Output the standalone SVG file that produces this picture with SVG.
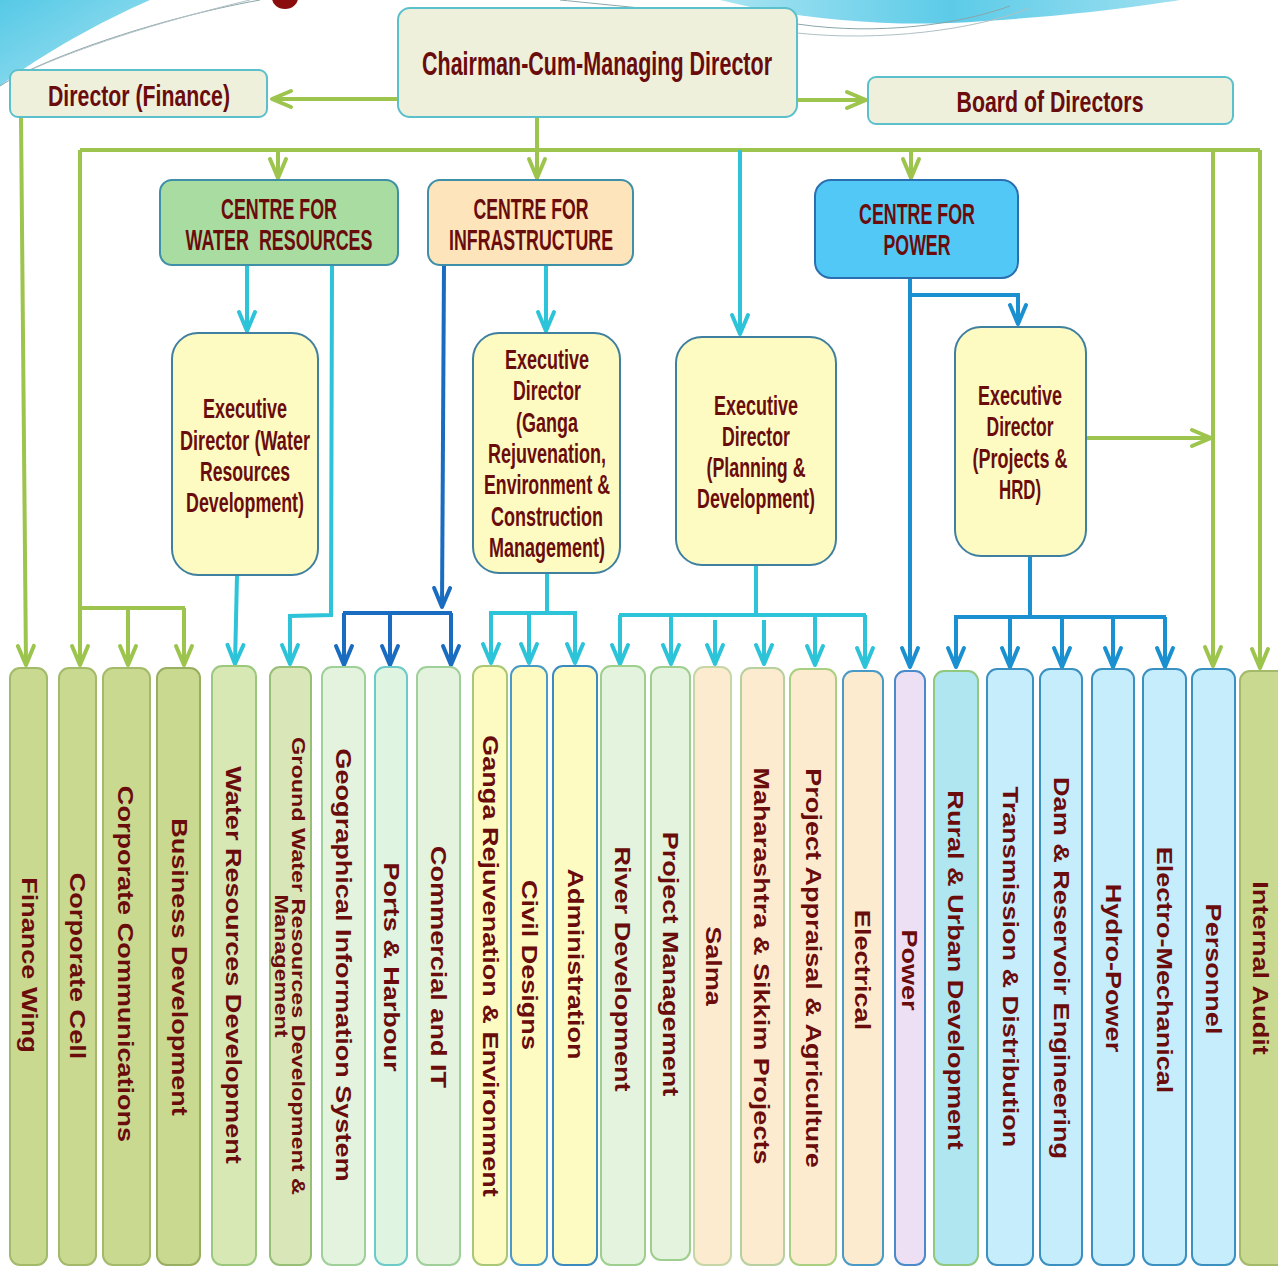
<svg xmlns="http://www.w3.org/2000/svg" width="1278" height="1266" viewBox="0 0 1278 1266">
<defs>
<linearGradient id="sw1" x1="0" y1="0" x2="1" y2="1"><stop offset="0" stop-color="#56c9e6"/><stop offset="1" stop-color="#a6e3f1"/></linearGradient>
<linearGradient id="sw2" x1="0" y1="0" x2="1" y2="0"><stop offset="0" stop-color="#a9e4f2"/><stop offset="0.5" stop-color="#5ccbe8"/><stop offset="1" stop-color="#9fe0f0"/></linearGradient>
<marker id="ag" viewBox="-22 -11 26 22" refX="0" refY="0" markerWidth="26" markerHeight="22" markerUnits="userSpaceOnUse" orient="auto" overflow="visible"><path d="M-19,-8 L0,0 L-19,8" fill="none" stroke="#9dc44d" stroke-width="4" stroke-linejoin="round" stroke-linecap="round"/></marker>
<marker id="ac" viewBox="-22 -11 26 22" refX="0" refY="0" markerWidth="26" markerHeight="22" markerUnits="userSpaceOnUse" orient="auto" overflow="visible"><path d="M-19,-8 L0,0 L-19,8" fill="none" stroke="#2dc3d8" stroke-width="4" stroke-linejoin="round" stroke-linecap="round"/></marker>
<marker id="ad" viewBox="-22 -11 26 22" refX="0" refY="0" markerWidth="26" markerHeight="22" markerUnits="userSpaceOnUse" orient="auto" overflow="visible"><path d="M-19,-8 L0,0 L-19,8" fill="none" stroke="#1a6cc0" stroke-width="4" stroke-linejoin="round" stroke-linecap="round"/></marker>
<marker id="ab" viewBox="-22 -11 26 22" refX="0" refY="0" markerWidth="26" markerHeight="22" markerUnits="userSpaceOnUse" orient="auto" overflow="visible"><path d="M-19,-8 L0,0 L-19,8" fill="none" stroke="#1a90d0" stroke-width="4" stroke-linejoin="round" stroke-linecap="round"/></marker>
</defs>
<style>
.t{font-family:"Liberation Sans Narrow","Liberation Sans",Arial,sans-serif;font-weight:bold;fill:#6a0c0c;text-anchor:middle}
.v{font-family:"Liberation Sans",Arial,sans-serif;font-weight:bold;fill:#6a0c0c;text-anchor:middle;font-size:22px}
.top{fill:#eef0dc;stroke:#5cc0cc;stroke-width:2}
.ed{fill:#fdfbc2;stroke:#3f7fa0;stroke-width:2}
.g{fill:none;stroke:#9dc44d;stroke-width:4}
.c{fill:none;stroke:#2dc3d8;stroke-width:4}
.d{fill:none;stroke:#1a6cc0;stroke-width:4}
.b{fill:none;stroke:#1a90d0;stroke-width:4}
.col{stroke-width:2}
</style>
<rect width="1278" height="1266" fill="#ffffff"/>
<g id="background">
<path d="M0,0 L150,0 C100,22 45,52 0,86 Z" fill="url(#sw1)"/>
<path d="M0,86 C40,60 150,20 260,0" fill="none" stroke="#8aa6aa" stroke-width="1"/>
<path d="M30,70 C110,35 200,12 250,0" fill="none" stroke="#b0c0c4" stroke-width="1"/>
<path d="M720,0 C790,18 880,26 950,23 C1050,18 1130,8 1180,0 Z" fill="url(#sw2)"/>
<path d="M797,24 C880,36 960,24 1010,6" fill="none" stroke="#8aa6aa" stroke-width="1"/>
<path d="M797,33 C880,42 975,30 1030,8" fill="none" stroke="#b0c0c4" stroke-width="1"/>
<path d="M560,0 C600,4 640,8 660,10" fill="none" stroke="#8aa6aa" stroke-width="1"/>
<ellipse cx="285" cy="-2" rx="13" ry="11" fill="#8a0c0c"/>
</g>
<g id="connectors">
<path class="g" d="M398,99 L272,99" marker-end="url(#ag)"/>
<path class="g" d="M797,100 L866,100" marker-end="url(#ag)"/>
<path class="g" d="M537,117 L537,178" marker-end="url(#ag)"/>
<path class="g" d="M80,150 L1260,150"/>
<path class="g" d="M278,150 L278,178" marker-end="url(#ag)"/>
<path class="g" d="M911,150 L911,178" marker-end="url(#ag)"/>
<path class="g" d="M21,117 L26,665" marker-end="url(#ag)"/>
<path class="g" d="M80,150 L80,665" marker-end="url(#ag)"/>
<path class="g" d="M80,608 L185,608"/>
<path class="g" d="M128,608 L128,665" marker-end="url(#ag)"/>
<path class="g" d="M184,608 L184,665" marker-end="url(#ag)"/>
<path class="g" d="M1213,150 L1213,666" marker-end="url(#ag)"/>
<path class="g" d="M1260,150 L1260,668" marker-end="url(#ag)"/>
<path class="g" d="M1086,438 L1211,438" marker-end="url(#ag)"/>
<path class="c" d="M740,150 L740,334" marker-end="url(#ac)"/>
<path class="c" d="M247,265 L247,331" marker-end="url(#ac)"/>
<path class="c" d="M332,265 L331,615 L290,616 L290,664" marker-end="url(#ac)"/>
<path class="c" d="M546,265 L546,331" marker-end="url(#ac)"/>
<path class="c" d="M237,575 L235,664" marker-end="url(#ac)"/>
<path class="c" d="M547,573 L547,613"/>
<path class="c" d="M489,613 L577,613"/>
<path class="c" d="M491,613 L491,663" marker-end="url(#ac)"/>
<path class="c" d="M529,613 L529,663" marker-end="url(#ac)"/>
<path class="c" d="M575,613 L575,663" marker-end="url(#ac)"/>
<path class="c" d="M756,565 L756,615"/>
<path class="c" d="M619,615 L866,615"/>
<path class="c" d="M620,615 L620,664" marker-end="url(#ac)"/>
<path class="c" d="M671,615 L671,664" marker-end="url(#ac)"/>
<path class="c" d="M715,620 L715,664" marker-end="url(#ac)"/>
<path class="c" d="M764,620 L764,664" marker-end="url(#ac)"/>
<path class="c" d="M815,615 L815,665" marker-end="url(#ac)"/>
<path class="c" d="M865,615 L865,667" marker-end="url(#ac)"/>
<path class="d" d="M444,265 L442,607" marker-end="url(#ad)"/>
<path class="d" d="M343,613 L452,613"/>
<path class="d" d="M344,613 L344,665" marker-end="url(#ad)"/>
<path class="d" d="M390,613 L390,665" marker-end="url(#ad)"/>
<path class="d" d="M451,613 L451,665" marker-end="url(#ad)"/>
<path class="b" d="M910,278 L910,667" marker-end="url(#ab)"/>
<path class="b" d="M910,295 L1018,295 L1018,324" marker-end="url(#ab)"/>
<path class="b" d="M1030,556 L1030,617"/>
<path class="b" d="M954,617 L1166,617"/>
<path class="b" d="M956,617 L956,667" marker-end="url(#ab)"/>
<path class="b" d="M1010,617 L1010,667" marker-end="url(#ab)"/>
<path class="b" d="M1062,617 L1062,667" marker-end="url(#ab)"/>
<path class="b" d="M1113,617 L1113,667" marker-end="url(#ab)"/>
<path class="b" d="M1165,617 L1165,667" marker-end="url(#ab)"/>
</g>
<g id="chairman">
<rect class="top" x="398" y="8" width="399" height="109" rx="12"/>
<text class="t" font-size="26" textLength="350" lengthAdjust="spacingAndGlyphs" transform="translate(597,75) scale(1,1.25)">Chairman-Cum-Managing Director</text>
</g>
<g id="director-finance">
<rect class="top" x="10" y="70" width="257" height="47" rx="8"/>
<text class="t" font-size="24" textLength="182" lengthAdjust="spacingAndGlyphs" transform="translate(139,106) scale(1,1.25)">Director (Finance)</text>
</g>
<g id="board">
<rect class="top" x="868" y="77" width="365" height="47" rx="8"/>
<text class="t" font-size="24" textLength="187" lengthAdjust="spacingAndGlyphs" transform="translate(1050,112) scale(1,1.25)">Board of Directors</text>
</g>
<g id="centre-water">
<rect x="160" y="180" width="238" height="85" rx="12" fill="#a8dca0" stroke="#3f8fa8" stroke-width="2"/>
<text class="t" font-size="24" textLength="116" lengthAdjust="spacingAndGlyphs" transform="translate(279,219) scale(1,1.25)">CENTRE FOR</text>
<text class="t" font-size="24" textLength="187" lengthAdjust="spacingAndGlyphs" transform="translate(279,250) scale(1,1.25)" xml:space="preserve">WATER  RESOURCES</text>
</g>
<g id="centre-infra">
<rect x="428" y="180" width="205" height="85" rx="12" fill="#fde4ba" stroke="#3f8fa8" stroke-width="2"/>
<text class="t" font-size="24" textLength="115" lengthAdjust="spacingAndGlyphs" transform="translate(531,219) scale(1,1.25)">CENTRE FOR</text>
<text class="t" font-size="24" textLength="164" lengthAdjust="spacingAndGlyphs" transform="translate(531,250) scale(1,1.25)">INFRASTRUCTURE</text>
</g>
<g id="centre-power">
<rect x="815" y="180" width="203" height="98" rx="16" fill="#52c8f6" stroke="#2a6fb0" stroke-width="2"/>
<text class="t" font-size="24" textLength="116" lengthAdjust="spacingAndGlyphs" transform="translate(917,224) scale(1,1.25)">CENTRE FOR</text>
<text class="t" font-size="24" textLength="67" lengthAdjust="spacingAndGlyphs" transform="translate(917,255) scale(1,1.25)">POWER</text>
</g>
<g id="ed-water">
<rect class="ed" x="172" y="333" width="146" height="242" rx="26"/>
<text class="t" font-size="22" textLength="84" lengthAdjust="spacingAndGlyphs" transform="translate(245,418) scale(1,1.25)">Executive</text>
<text class="t" font-size="22" textLength="130" lengthAdjust="spacingAndGlyphs" transform="translate(245,450) scale(1,1.25)">Director (Water</text>
<text class="t" font-size="22" textLength="90" lengthAdjust="spacingAndGlyphs" transform="translate(245,481) scale(1,1.25)">Resources</text>
<text class="t" font-size="22" textLength="118" lengthAdjust="spacingAndGlyphs" transform="translate(245,512) scale(1,1.25)">Development)</text>
</g>
<g id="ed-ganga">
<rect class="ed" x="473" y="333" width="147" height="240" rx="26"/>
<text class="t" font-size="22" textLength="84" lengthAdjust="spacingAndGlyphs" transform="translate(547,369) scale(1,1.25)">Executive</text>
<text class="t" font-size="22" textLength="68" lengthAdjust="spacingAndGlyphs" transform="translate(547,400) scale(1,1.25)">Director</text>
<text class="t" font-size="22" textLength="62" lengthAdjust="spacingAndGlyphs" transform="translate(547,432) scale(1,1.25)">(Ganga</text>
<text class="t" font-size="22" textLength="118" lengthAdjust="spacingAndGlyphs" transform="translate(547,463) scale(1,1.25)">Rejuvenation,</text>
<text class="t" font-size="22" textLength="126" lengthAdjust="spacingAndGlyphs" transform="translate(547,494) scale(1,1.25)">Environment &amp;</text>
<text class="t" font-size="22" textLength="112" lengthAdjust="spacingAndGlyphs" transform="translate(547,526) scale(1,1.25)">Construction</text>
<text class="t" font-size="22" textLength="116" lengthAdjust="spacingAndGlyphs" transform="translate(547,557) scale(1,1.25)">Management)</text>
</g>
<g id="ed-planning">
<rect class="ed" x="676" y="337" width="160" height="228" rx="26"/>
<text class="t" font-size="22" textLength="84" lengthAdjust="spacingAndGlyphs" transform="translate(756,415) scale(1,1.25)">Executive</text>
<text class="t" font-size="22" textLength="68" lengthAdjust="spacingAndGlyphs" transform="translate(756,446) scale(1,1.25)">Director</text>
<text class="t" font-size="22" textLength="99" lengthAdjust="spacingAndGlyphs" transform="translate(756,477) scale(1,1.25)">(Planning &amp;</text>
<text class="t" font-size="22" textLength="118" lengthAdjust="spacingAndGlyphs" transform="translate(756,508) scale(1,1.25)">Development)</text>
</g>
<g id="ed-projects">
<rect class="ed" x="955" y="327" width="131" height="229" rx="26"/>
<text class="t" font-size="22" textLength="84" lengthAdjust="spacingAndGlyphs" transform="translate(1020,405) scale(1,1.25)">Executive</text>
<text class="t" font-size="22" textLength="67" lengthAdjust="spacingAndGlyphs" transform="translate(1020,436) scale(1,1.25)">Director</text>
<text class="t" font-size="22" textLength="95" lengthAdjust="spacingAndGlyphs" transform="translate(1020,468) scale(1,1.25)">(Projects &amp;</text>
<text class="t" font-size="22" textLength="42" lengthAdjust="spacingAndGlyphs" transform="translate(1020,499) scale(1,1.25)">HRD)</text>
</g>
<g id="col-finance-wing"><rect class="col" x="10" y="668" width="37" height="597" rx="10" fill="#c9d98f" stroke="#a3ba6a"/><text class="v" transform="translate(22,965) rotate(90) scale(1.23,1)">Finance Wing</text></g>
<g id="col-corporate-cell"><rect class="col" x="59" y="668" width="37" height="597" rx="10" fill="#c9d98f" stroke="#a3ba6a"/><text class="v" transform="translate(70,966) rotate(90) scale(1.23,1)">Corporate Cell</text></g>
<g id="col-corporate-communications"><rect class="col" x="103" y="668" width="47" height="597" rx="10" fill="#c9d98f" stroke="#a3ba6a"/><text class="v" transform="translate(118,964) rotate(90) scale(1.23,1)">Corporate Communications</text></g>
<g id="col-business-development"><rect class="col" x="157" y="668" width="43" height="597" rx="10" fill="#c9d98f" stroke="#98ae60"/><text class="v" transform="translate(172,967) rotate(90) scale(1.23,1)">Business Development</text></g>
<g id="col-water-resources-development"><rect class="col" x="212" y="666" width="44" height="599" rx="10" fill="#d7e8b5" stroke="#9cc87e"/><text class="v" transform="translate(226,965) rotate(90) scale(1.23,1)">Water Resources Development</text></g>
<g id="col-ground-water"><rect class="col" x="270" y="667" width="41" height="598" rx="10" fill="#d9e6b8" stroke="#98bf78"/><text class="v" style="font-size:18px" transform="translate(292,966) rotate(90) scale(1.3,1)">Ground Water Resources Development &amp;</text><text class="v" style="font-size:18px" transform="translate(275,966) rotate(90) scale(1.3,1)">Management</text></g>
<g id="col-gis"><rect class="col" x="322" y="667" width="43" height="598" rx="10" fill="#e3f3dd" stroke="#9fd09a"/><text class="v" transform="translate(336,965) rotate(90) scale(1.23,1)">Geographical Information System</text></g>
<g id="col-ports-harbour"><rect class="col" x="375" y="667" width="32" height="598" rx="10" fill="#e0f4e2" stroke="#6ccbc8"/><text class="v" transform="translate(384,967) rotate(90) scale(1.23,1)">Ports &amp; Harbour</text></g>
<g id="col-commercial-it"><rect class="col" x="417" y="667" width="43" height="598" rx="10" fill="#e3f3dd" stroke="#9fd09a"/><text class="v" transform="translate(431,967) rotate(90) scale(1.23,1)">Commercial and IT</text></g>
<g id="col-ganga"><rect class="col" x="473" y="666" width="34" height="599" rx="10" fill="#fefbc2" stroke="#a8c878"/><text class="v" transform="translate(483,966) rotate(90) scale(1.23,1)">Ganga Rejuvenation &amp; Environment</text></g>
<g id="col-civil-designs"><rect class="col" x="511" y="666" width="36" height="599" rx="10" fill="#fefbc2" stroke="#4a9ac8"/><text class="v" transform="translate(522,965) rotate(90) scale(1.23,1)">Civil Designs</text></g>
<g id="col-administration"><rect class="col" x="553" y="666" width="44" height="599" rx="10" fill="#fefbc2" stroke="#3a8ac0"/><text class="v" transform="translate(568,964) rotate(90) scale(1.23,1)">Administration</text></g>
<g id="col-river-development"><rect class="col" x="601" y="666" width="44" height="599" rx="10" fill="#e3f3dd" stroke="#9fcf8f"/><text class="v" transform="translate(615,969) rotate(90) scale(1.23,1)">River Development</text></g>
<g id="col-project-management"><rect class="col" x="651" y="667" width="39" height="593" rx="10" fill="#e3f3dd" stroke="#9fcf8f"/><text class="v" transform="translate(663,964) rotate(90) scale(1.23,1)">Project Management</text></g>
<g id="col-salma"><rect class="col" x="694" y="667" width="37" height="598" rx="10" fill="#fdebcf" stroke="#c6d6a6"/><text class="v" transform="translate(706,966) rotate(90) scale(1.23,1)">Salma</text></g>
<g id="col-maharashtra"><rect class="col" x="741" y="668" width="43" height="597" rx="10" fill="#fdebcf" stroke="#b8d0a0"/><text class="v" transform="translate(754,966) rotate(90) scale(1.23,1)">Maharashtra &amp; Sikkim Projects</text></g>
<g id="col-project-appraisal"><rect class="col" x="790" y="669" width="46" height="596" rx="10" fill="#fdebcf" stroke="#a8d080"/><text class="v" transform="translate(806,968) rotate(90) scale(1.23,1)">Project Appraisal &amp; Agriculture</text></g>
<g id="col-electrical"><rect class="col" x="843" y="671" width="40" height="594" rx="10" fill="#fdebcf" stroke="#4a9ac8"/><text class="v" transform="translate(855,970) rotate(90) scale(1.23,1)">Electrical</text></g>
<g id="col-power"><rect class="col" x="895" y="671" width="30" height="594" rx="10" fill="#ede0f5" stroke="#4a8ac8"/><text class="v" transform="translate(902,970) rotate(90) scale(1.23,1)">Power</text></g>
<g id="col-rural-urban"><rect class="col" x="934" y="671" width="44" height="594" rx="10" fill="#b0e6ef" stroke="#90c880"/><text class="v" transform="translate(948,970) rotate(90) scale(1.23,1)">Rural &amp; Urban Development</text></g>
<g id="col-transmission"><rect class="col" x="987" y="669" width="46" height="596" rx="10" fill="#c5edfb" stroke="#3a90c0"/><text class="v" transform="translate(1003,967) rotate(90) scale(1.23,1)">Transmission &amp; Distribution</text></g>
<g id="col-dam-reservoir"><rect class="col" x="1040" y="669" width="42" height="596" rx="10" fill="#c5edfb" stroke="#3a90c0"/><text class="v" transform="translate(1054,968) rotate(90) scale(1.23,1)">Dam &amp; Reservoir Engineering</text></g>
<g id="col-hydro-power"><rect class="col" x="1092" y="669" width="42" height="596" rx="10" fill="#c5edfb" stroke="#3a90c0"/><text class="v" transform="translate(1106,968) rotate(90) scale(1.23,1)">Hydro-Power</text></g>
<g id="col-electro-mechanical"><rect class="col" x="1143" y="669" width="43" height="596" rx="10" fill="#c5edfb" stroke="#3a90c0"/><text class="v" transform="translate(1157,970) rotate(90) scale(1.23,1)">Electro-Mechanical</text></g>
<g id="col-personnel"><rect class="col" x="1192" y="669" width="43" height="596" rx="10" fill="#c5edfb" stroke="#3a90c0"/><text class="v" transform="translate(1206,969) rotate(90) scale(1.23,1)">Personnel</text></g>
<g id="col-internal-audit"><rect class="col" x="1240" y="671" width="48" height="594" rx="10" fill="#c9d98f" stroke="#a3ba6a"/><text class="v" transform="translate(1253,968) rotate(90) scale(1.23,1)">Internal Audit</text></g>
</svg>
